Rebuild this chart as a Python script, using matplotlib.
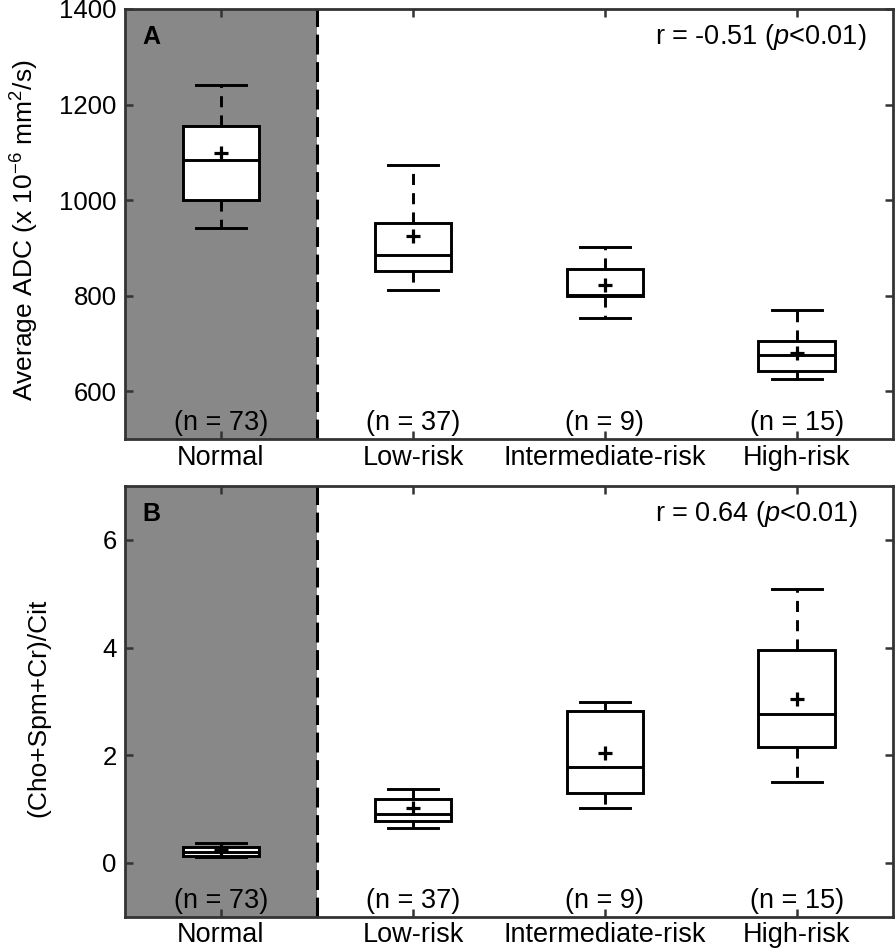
import matplotlib

matplotlib.use("Agg")
import matplotlib.pyplot as plt

plt.rcParams["font.family"] = ["Liberation Sans", "DejaVu Sans"]
plt.rcParams["mathtext.fontset"] = "custom"
plt.rcParams["mathtext.rm"] = "Liberation Sans"
plt.rcParams["mathtext.it"] = "Liberation Sans:italic"
plt.rcParams["mathtext.bf"] = "Liberation Sans:bold"

# ---- data ---------------------------------------------------------------- #
groups = ["Normal", "Low-risk", "Intermediate-risk", "High-risk"]
n_counts = [73, 37, 9, 15]

# panel A: average ADC (x 1e-6 mm^2/s)
adc_whislo = [942, 812, 754, 626]
adc_q1 = [1000, 851, 799, 643]
adc_med = [1083, 886, 802, 676]
adc_q3 = [1154, 951, 856, 704]
adc_whishi = [1240, 1073, 902, 770]
adc_mean = [1098, 925, 823, 679]

# panel B: (Cho+Spm+Cr)/Cit
ratio_whislo = [0.10, 0.65, 1.01, 1.51]
ratio_q1 = [0.13, 0.78, 1.29, 2.15]
ratio_med = [0.21, 0.91, 1.78, 2.77]
ratio_q3 = [0.30, 1.19, 2.82, 3.95]
ratio_whishi = [0.37, 1.38, 2.98, 5.09]
ratio_mean = [0.23, 1.01, 2.04, 3.04]

FS = 19.5      # annotations and category labels
FS_Y = 18.5    # y tick labels
EDGE = "#333333"


def _stats(lo, q1, med, q3, hi, mean):
    return [dict(whislo=a, q1=b, med=c, q3=d, whishi=e, mean=f, fliers=[])
            for a, b, c, d, e, f in zip(lo, q1, med, q3, hi, mean)]


def _panel(ax, stats, ylim, yticks, ylabel, label_x, letter, rtext):
    pos = range(1, len(groups) + 1)
    ax.axvspan(0.5, 1.5, color="#888888", lw=0, zorder=0)
    ax.axvline(1.5, color="black", lw=2.2, ls=(0, (6.5, 2.5)), zorder=1)
    ax.bxp(stats, positions=pos, widths=0.4, capwidths=0.26, showmeans=True,
           showfliers=False, patch_artist=True,
           boxprops=dict(facecolor="white", edgecolor="black", lw=2.1),
           medianprops=dict(color="black", lw=2.1),
           whiskerprops=dict(color="black", lw=2.1, ls=(0, (3.8, 2.8))),
           capprops=dict(color="black", lw=2.1),
           meanprops=dict(marker="+", markersize=10, markeredgewidth=2.3,
                          markeredgecolor="black"))
    for p, n in zip(pos, n_counts):
        ax.text(p, 0.021, f"(n = {n})", transform=ax.get_xaxis_transform(),
                ha="center", va="baseline", fontsize=FS)
    ax.text(0.022, 0.918, letter, transform=ax.transAxes, fontsize=18,
            fontweight="bold", va="baseline")
    ax.text(0.690, 0.918, rtext, transform=ax.transAxes, fontsize=FS,
            va="baseline")
    ax.set_xlim(0.5, 4.5)
    ax.set_ylim(*ylim)
    ax.set_yticks(yticks)
    ax.set_xticks(list(pos))
    ax.set_xticklabels(groups)
    ax.set_ylabel(ylabel, fontsize=19, va="center")
    ax.yaxis.set_label_coords(label_x, 0.485)
    ax.tick_params(direction="in", length=6, width=1.8, color=EDGE,
                   top=True, right=True)
    ax.tick_params(axis="x", pad=4, labelsize=FS)
    ax.tick_params(axis="y", pad=6, labelsize=FS_Y)
    for s in ax.spines.values():
        s.set_color(EDGE)
        s.set_linewidth(2)
        s.set_zorder(5)


fig = plt.figure(figsize=(8.96, 9.52), dpi=100)
ax_a = fig.add_axes([0.1395, 0.5389, 0.857, 0.4517])
ax_b = fig.add_axes([0.1395, 0.0371, 0.857, 0.4524])

_panel(ax_a, _stats(adc_whislo, adc_q1, adc_med, adc_q3, adc_whishi, adc_mean),
       (500, 1400), [600, 800, 1000, 1200, 1400],
       r"Average ADC (x 10$^{-6}$ mm$^{2}$/s)", -0.130, "A",
       r"r = -0.51 ($\mathit{p}$<0.01)")
_panel(ax_b, _stats(ratio_whislo, ratio_q1, ratio_med, ratio_q3, ratio_whishi, ratio_mean),
       (-1, 7), [0, 2, 4, 6],
       "(Cho+Spm+Cr)/Cit", -0.113, "B",
       r"r = 0.64 ($\mathit{p}$<0.01)")

fig.savefig("out.png", dpi=100)
